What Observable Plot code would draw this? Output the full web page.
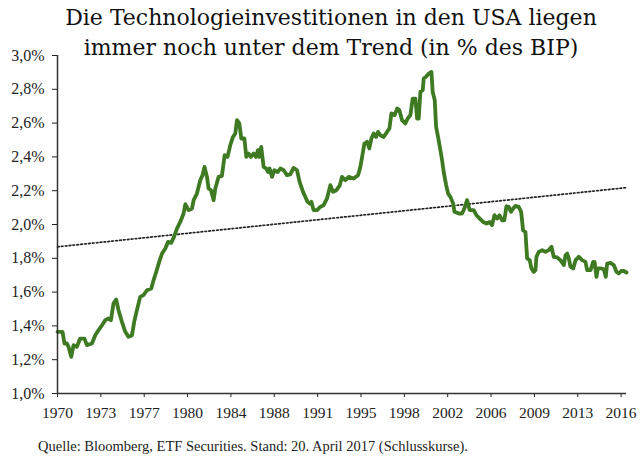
<!DOCTYPE html>
<html><head><meta charset="utf-8">
<script src="https://cdn.jsdelivr.net/npm/d3@7"></script>
<script src="https://cdn.jsdelivr.net/npm/@observablehq/plot@0.6"></script>
<style>
body{margin:0;background:#fff;width:641px;height:457px;overflow:hidden}
#title{height:44px;box-sizing:border-box;padding-top:3px;padding-left:21px;text-align:center;font:22px/30px "DejaVu Serif",serif;color:#111;white-space:nowrap}
#chart svg{display:block}
#caption{padding-left:38px;font:14.5px/24px "Liberation Serif",serif;color:#222;white-space:nowrap}
</style></head><body>
<div id="title">Die Technologieinvestitionen in den USA liegen<br>immer noch unter dem Trend (in % des BIP)</div>
<div id="chart"></div>
<div id="caption">Quelle: Bloomberg, ETF Securities. Stand: 20. April 2017 (Schlusskurse).</div>
<script>
const years = [1970.0,1970.41,1970.57,1970.77,1970.90,1971.12,1971.31,1971.58,1971.85,1972.20,1972.40,1972.81,1973.08,1973.35,1973.63,1973.90,1974.16,1974.36,1974.57,1974.79,1974.98,1975.26,1975.53,1975.80,1976.08,1976.26,1976.48,1976.75,1977.02,1977.30,1977.65,1977.84,1978.06,1978.30,1978.53,1978.80,1979.02,1979.28,1979.51,1979.75,1980.02,1980.29,1980.43,1980.70,1980.98,1981.11,1981.38,1981.65,1981.84,1982.00,1982.20,1982.33,1982.53,1982.74,1982.88,1983.15,1983.42,1983.64,1983.88,1984.10,1984.32,1984.51,1984.65,1984.84,1985.00,1985.25,1985.41,1985.60,1985.79,1986.01,1986.20,1986.36,1986.47,1986.63,1986.82,1987.04,1987.18,1987.31,1987.51,1987.70,1987.97,1988.19,1988.46,1988.73,1989.00,1989.27,1989.55,1989.76,1990.04,1990.23,1990.41,1990.58,1990.72,1990.90,1991.18,1991.45,1991.72,1992.00,1992.27,1992.49,1992.76,1993.03,1993.22,1993.49,1993.76,1994.17,1994.53,1994.72,1994.91,1995.05,1995.27,1995.45,1995.62,1995.80,1996.00,1996.16,1996.35,1996.62,1996.90,1997.09,1997.25,1997.52,1997.72,1997.90,1998.12,1998.39,1998.58,1998.80,1998.99,1999.21,1999.35,1999.48,1999.62,1999.81,1999.89,2000.08,2000.30,2000.52,2000.62,2000.79,2000.90,2001.06,2001.25,2001.39,2001.52,2001.72,2001.88,2002.07,2002.29,2002.40,2002.75,2003.02,2003.21,2003.43,2003.64,2003.97,2004.19,2004.46,2004.74,2005.01,2005.28,2005.47,2005.66,2005.88,2006.07,2006.29,2006.47,2006.64,2006.83,2007.02,2007.19,2007.37,2007.64,2007.84,2008.00,2008.19,2008.33,2008.54,2008.68,2008.87,2009.01,2009.09,2009.28,2009.56,2009.83,2010.09,2010.32,2010.50,2010.78,2011.05,2011.32,2011.46,2011.60,2011.73,2011.87,2012.09,2012.28,2012.55,2012.82,2013.09,2013.23,2013.50,2013.72,2013.83,2013.99,2014.10,2014.37,2014.59,2014.75,2014.86,2015.13,2015.40,2015.62,2015.81,2016.01,2016.22,2016.44];
const shares = [1.365,1.365,1.296,1.296,1.276,1.217,1.286,1.276,1.325,1.325,1.286,1.296,1.345,1.375,1.404,1.434,1.444,1.434,1.533,1.556,1.493,1.424,1.365,1.335,1.345,1.424,1.493,1.572,1.582,1.611,1.621,1.670,1.720,1.779,1.828,1.858,1.897,1.891,1.927,1.976,2.015,2.065,2.12,2.085,2.095,2.144,2.183,2.262,2.292,2.341,2.282,2.213,2.203,2.144,2.213,2.282,2.288,2.41,2.40,2.469,2.518,2.538,2.617,2.598,2.509,2.509,2.40,2.42,2.40,2.42,2.40,2.44,2.40,2.459,2.341,2.331,2.311,2.331,2.282,2.321,2.311,2.331,2.321,2.292,2.296,2.335,2.321,2.252,2.193,2.163,2.134,2.124,2.134,2.085,2.085,2.104,2.114,2.154,2.233,2.193,2.203,2.23,2.282,2.262,2.282,2.272,2.292,2.341,2.42,2.479,2.489,2.45,2.509,2.538,2.518,2.548,2.528,2.518,2.548,2.568,2.657,2.647,2.686,2.677,2.617,2.598,2.627,2.647,2.745,2.745,2.627,2.627,2.785,2.795,2.864,2.874,2.893,2.903,2.785,2.735,2.578,2.518,2.44,2.38,2.311,2.233,2.183,2.163,2.124,2.075,2.065,2.065,2.095,2.144,2.085,2.085,2.055,2.035,2.015,2.006,2.015,1.996,2.055,2.035,2.055,2.025,2.025,2.108,2.104,2.075,2.095,2.11,2.104,2.075,1.966,1.956,1.799,1.789,1.74,1.72,1.73,1.809,1.838,1.848,1.838,1.848,1.868,1.809,1.805,1.789,1.76,1.818,1.828,1.799,1.75,1.74,1.789,1.809,1.789,1.779,1.73,1.73,1.779,1.779,1.69,1.74,1.74,1.735,1.69,1.769,1.773,1.76,1.72,1.71,1.725,1.725,1.716];
const trendYears = [1970, 2016.44];
const trendShares = [1.868, 2.218];
const xTickLabels = ["1970","1973","1977","1980","1984","1988","1991","1995","1998","2002","2006","2009","2013","2016"];
const yTicks = [1.0,1.2,1.4,1.6,1.8,2.0,2.2,2.4,2.6,2.8,3.0];

const tickStep = (2016 - 1970) / (xTickLabels.length - 1);
const xTicks = xTickLabels.map((_, i) => 1970 + i * tickStep);
const labelOf = new Map(xTicks.map((t, i) => [t, xTickLabels[i]]));
const data = years.map((year, i) => ({year, share: shares[i]}));
const trend = trendYears.map((year, i) => ({year, share: trendShares[i]}));
const fmt = d => d.toFixed(1).replace(".", ",") + "%";

const chart = Plot.plot({
  width: 641, height: 390,
  marginTop: 11, marginBottom: 41, marginLeft: 57, marginRight: 15,
  style: {fontFamily: "'Liberation Serif', serif", fontSize: "15px", color: "#222", background: "transparent", overflow: "visible"},
  x: {domain: [1970, 2016.44]},
  y: {domain: [1, 3]},
  marks: [
    Plot.axisY({ticks: yTicks, tickFormat: fmt, tickSize: 5, tickPadding: 8, label: null, fontSize: 16}),
    Plot.axisX({ticks: xTicks, tickFormat: d => labelOf.get(d), tickSize: 4, tickPadding: 9, label: null, fontSize: 15.5}),
    Plot.line(trend, {x: "year", y: "share", stroke: "#222", strokeWidth: 1.7, strokeDasharray: "1.7,2.2"}),
    Plot.line(data, {x: "year", y: "share", stroke: "#3d7a22", strokeWidth: 3.8, strokeLinejoin: "round"}),
    Plot.ruleX([1970], {stroke: "#333", strokeWidth: 1.5}),
    Plot.ruleY([1], {stroke: "#333", strokeWidth: 1.5})
  ]
});
document.getElementById("chart").appendChild(chart);
</script>
</body></html>
